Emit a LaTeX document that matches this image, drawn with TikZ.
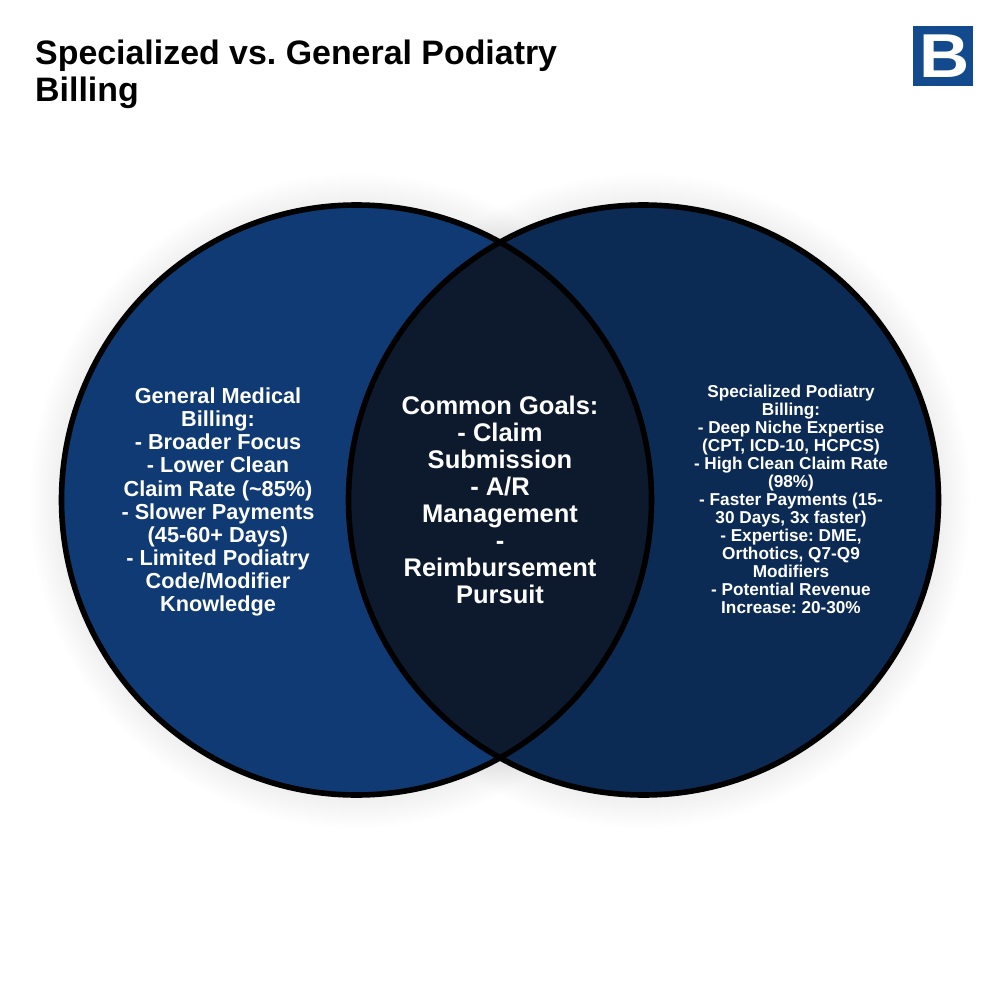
\documentclass[tikz,border=0pt]{standalone}
\usepackage{fontspec}
\setmainfont{Liberation Sans}
\definecolor{leftblue}{HTML}{0F3A73}
\definecolor{rightblue}{HTML}{0C2B54}
\definecolor{midblue}{HTML}{0D1A2E}
\definecolor{logoblue}{HTML}{134A8E}
\newcommand{\fs}[2]{\fontsize{#1}{#2}\selectfont\bfseries\frenchspacing}
\tikzset{
  x=1pt,y=-1pt,
  vennbody/.style={draw=black,line width=5.6pt},
  halo/.style={fill=black,fill opacity=0.002,draw=none},
  lbl/.style={align=center,text=white,inner sep=0pt}
}
\begin{document}
\begin{tikzpicture}
\useasboundingbox (0,0) rectangle (1000,1000);
\fill[white] (0,0) rectangle (1000,1000);
% soft shadow
\foreach \r in {297,299,...,327}{
  \fill[halo] (356.5,501) circle (\r);
  \fill[halo] (643.5,501) circle (\r);
}
% circles
\fill[leftblue] (356.5,500) circle (295);
\fill[rightblue] (643.5,500) circle (295);
\begin{scope}
  \clip (356.5,500) circle (295);
  \fill[midblue] (643.5,500) circle (295);
\end{scope}
\draw[vennbody] (356.5,500) circle (295);
\draw[vennbody] (643.5,500) circle (295);
% labels
\node[lbl,font=\fs{21.7}{23.1}] (general) at (218,502) {General Medical\\Billing:\\- Broader Focus\\- Lower Clean\\Claim Rate (\textasciitilde85\%)\\- Slower Payments\\(45-60+ Days)\\- Limited Podiatry\\Code/Modifier\\Knowledge};
\node[lbl,font=\fs{25.5}{27}] (common) at (500,500) {Common Goals:\\- Claim\\Submission\\- A/R\\Management\\-\\Reimbursement\\Pursuit};
\node[lbl,font=\fs{17.2}{18}] (special) at (791,499) {Specialized Podiatry\\Billing:\\- Deep Niche Expertise\\(CPT, ICD-10, HCPCS)\\- High Clean Claim Rate\\(98\%)\\- Faster Payments (15-\\30 Days, 3x faster)\\- Expertise: DME,\\Orthotics, Q7-Q9\\Modifiers\\- Potential Revenue\\Increase: 20-30\%};
% title
\node[anchor=north west,align=left,inner sep=0pt,font=\fs{33.9}{36.5}] (title) at (35,40) {Specialized vs. General Podiatry\\Billing};
% logo
\fill[logoblue] (913,26) rectangle (973,86);
\node[text=white,inner sep=0pt,font=\fs{62}{62},xscale=1.12] (logo) at (945,56) {B};
\end{tikzpicture}
\end{document}
